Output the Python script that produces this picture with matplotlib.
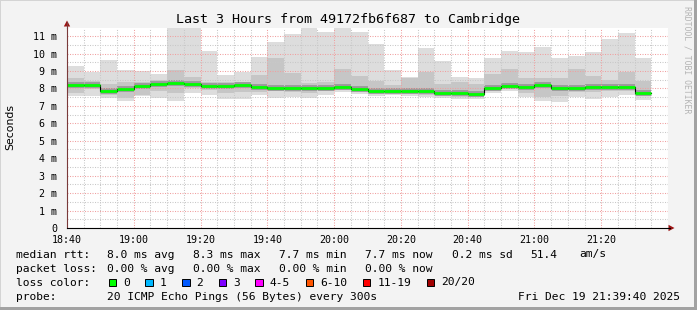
import matplotlib
matplotlib.use("Agg")
import matplotlib.pyplot as plt
from matplotlib.patches import Polygon, Rectangle
import numpy as np

W, H = 697, 310
MONO = "DejaVu Sans Mono"

# 5-minute rounds starting 18:40, minutes since 18:40
starts = [5 * i for i in range(35)]
median = [8.19, 8.19, 7.84, 7.98, 8.13, 8.27, 8.32, 8.25, 8.13, 8.13, 8.17, 8.09,
          8.04, 8.04, 8.04, 8.04, 8.06, 7.94, 7.83, 7.83, 7.83, 7.84, 7.73, 7.73,
          7.69, 8.04, 8.13, 8.07, 8.19, 8.04, 8.04, 8.07, 8.07, 8.07, 7.73]
ping_max = [9.30, 8.95, 9.63, 9.05, 9.00, 8.82, 12.0, 12.0, 10.14, 8.76, 8.95, 9.80,
            10.68, 11.12, 12.0, 11.25, 12.0, 11.25, 10.55, 9.05, 8.67, 10.33, 9.57, 8.67,
            8.57, 9.76, 10.12, 10.08, 10.38, 9.76, 9.86, 10.08, 10.82, 11.18, 9.76]
ping_hi = [8.57, 8.45, 8.23, 8.38, 8.35, 8.48, 9.05, 8.67, 8.35, 8.35, 8.38, 8.76,
           9.76, 8.86, 8.30, 8.35, 9.10, 8.72, 8.44, 8.19, 8.60, 8.95, 8.23, 8.35,
           8.23, 8.82, 9.10, 8.57, 8.57, 8.57, 9.10, 8.72, 8.48, 8.95, 8.42]
ping_lo = [7.75, 7.96, 7.65, 7.45, 7.65, 7.84, 7.71, 8.00, 7.90, 7.71, 7.80, 7.80,
           7.90, 7.80, 7.71, 7.84, 7.88, 7.80, 7.73, 7.71, 7.67, 7.60, 7.56, 7.52,
           7.48, 7.84, 7.96, 7.71, 7.52, 7.56, 7.80, 7.80, 7.84, 7.84, 7.56]
ping_min = [7.57, 7.56, 7.43, 7.30, 7.57, 7.46, 7.29, 7.75, 7.60, 7.38, 7.38, 7.60,
            7.43, 7.52, 7.46, 7.60, 7.80, 7.69, 7.57, 7.60, 7.56, 7.52, 7.46, 7.38,
            7.38, 7.71, 7.84, 7.52, 7.27, 7.20, 7.52, 7.38, 7.52, 7.60, 7.33]

x_ticks = [0, 20, 40, 60, 80, 100, 120, 140, 160]
x_labels = ["18:40", "19:00", "19:20", "19:40", "20:00", "20:20", "20:40", "21:00", "21:20"]
y_ticks = list(range(12))
y_labels = ["0"] + [f"{v} m" for v in range(1, 12)]

loss_labels = ["0", "1", "2", "3", "4-5", "6-10", "11-19", "20/20"]
loss_colors = ["#00ff00", "#00b8ff", "#0059ff", "#7e00ff", "#ff00ff", "#ff5500", "#ff0000", "#a10000"]

rtt_stats = ["8.0 ms avg", "8.3 ms max", "7.7 ms min", "7.7 ms now", "0.2 ms sd", "51.4", "am/s"]
loss_stats = ["0.00 % avg", "0.00 % max", "0.00 % min", "0.00 % now"]

fig = plt.figure(figsize=(W / 100, H / 100), dpi=100, facecolor="#f3f3f3")
ax = fig.add_axes([67 / W, (H - 228) / H, 601 / W, 200.5 / H])
ax.set_facecolor("white")
ax.set_xlim(0, 180)
ax.set_ylim(0, 11.49)

lo_min = np.array(ping_min)
ax.bar(starts, np.array(ping_max) - lo_min, bottom=lo_min, width=5, align="edge",
       color="#dddddd", linewidth=0, zorder=1)
ax.bar(starts, np.array(ping_hi) - np.array(ping_lo), bottom=ping_lo, width=5, align="edge",
       color="#c6c6c6", linewidth=0, zorder=1.1)
ends = [s + 5 for s in starts]
ax.hlines(median, starts, ends, color="#9a9a9a", linewidth=4.2, zorder=1.2)

# grid above the smoke
ax.set_xticks(x_ticks)
ax.set_xticklabels(x_labels, fontfamily=MONO, fontsize=7.2)
ax.set_xticks(np.arange(0, 181, 5), minor=True)
ax.set_yticks(y_ticks)
ax.set_yticklabels(y_labels, fontfamily=MONO, fontsize=7.2)
ax.set_yticks(np.arange(0, 11.5, 0.5), minor=True)
ax.grid(which="minor", color="#c8c8c8", linestyle=(0, (1, 1.4)), linewidth=0.75)
ax.grid(which="major", color="#f0a0a0", linestyle=(0, (1, 1.4)), linewidth=0.75)
ax.set_axisbelow(False)
for gl in ax.get_xgridlines() + ax.get_ygridlines():
    gl.set_zorder(2)
ax.tick_params(which="both", length=0)
ax.tick_params(axis="x", pad=5)
ax.tick_params(axis="y", pad=7)

# median line: black steps with green loss colour on top
ax.step(starts + [175], median + [median[-1]], where="post", color="black", linewidth=0.8, zorder=3)
ax.hlines(median, starts, ends, color=loss_colors[0], linewidth=2.0, zorder=4)

for side in ["top", "right"]:
    ax.spines[side].set_visible(False)
ax.spines["bottom"].set_color("black")
ax.spines["left"].set_color("#7a3a3a")
ax.spines["bottom"].set_zorder(5)
ax.spines["left"].set_zorder(5)

# overlay in pixel coordinates for labels, legend, frame
ov = fig.add_axes([0, 0, 1, 1], zorder=10)
ov.set_xlim(0, W)
ov.set_ylim(H, 0)
ov.axis("off")
ov.patch.set_visible(False)

ov.add_patch(Rectangle((0, 0), W, 1.2, color="#d4d4d4", lw=0))
ov.add_patch(Rectangle((0, 0), 1.2, H, color="#d4d4d4", lw=0))
ov.add_patch(Rectangle((W - 3, 0), 3, H, color="#a2a2a2", lw=0))
ov.add_patch(Rectangle((0, H - 3), W, 3, color="#a2a2a2", lw=0))

ov.plot([67, 67], [22, 28], color="#7a3a3a", lw=0.8)
ov.add_patch(Polygon([[67, 20.5], [63.8, 26.5], [70.2, 26.5]], color="#9c1414", lw=0))
ov.plot([668, 670], [228, 228], color="black", lw=0.8)
ov.add_patch(Polygon([[674.5, 228], [668.5, 224.8], [668.5, 231.2]], color="#9c1414", lw=0))

ov.text(348, 19, "Last 3 Hours from 49172fb6f687 to Cambridge", ha="center", va="center",
        fontfamily=MONO, fontsize=9.6)
ov.text(10, 127, "Seconds", rotation=90, ha="center", va="center",
        fontfamily="DejaVu Sans", fontsize=7.8)
ov.text(687, 60, "RRDTOOL / TOBI OETIKER", rotation=270, ha="center", va="center",
        fontfamily=MONO, fontsize=5.9, color="#b4b4b4")

fs = 8.1
row_y = [254.5, 268.5, 282.5, 296.5]
ov.text(16, row_y[0], "median rtt:", va="center", fontfamily=MONO, fontsize=fs)
for xp, s in zip([107.3, 193.3, 279.3, 365, 451.7, 530, 579.3], rtt_stats):
    ov.text(xp, row_y[0], s, va="center", fontfamily=MONO, fontsize=fs)
ov.text(16, row_y[1], "packet loss:", va="center", fontfamily=MONO, fontsize=fs)
for xp, s in zip([107.3, 193.3, 279.3, 365], loss_stats):
    ov.text(xp, row_y[1], s, va="center", fontfamily=MONO, fontsize=fs)
ov.text(16, row_y[2], "loss color:", va="center", fontfamily=MONO, fontsize=fs)
bx = 108.7
for lab, col in zip(loss_labels, loss_colors):
    ov.add_patch(Rectangle((bx, row_y[2] - 4), 7.5, 7.5, facecolor=col, edgecolor="black", lw=0.7))
    ov.text(bx + 14.6, row_y[2], lab, va="center", fontfamily=MONO, fontsize=fs)
    bx += 14.6 + 6.85 * len(lab) + 15.2
ov.text(16, row_y[3], "probe:", va="center", fontfamily=MONO, fontsize=fs)
ov.text(107.3, row_y[3], "20 ICMP Echo Pings (56 Bytes) every 300s", va="center",
        fontfamily=MONO, fontsize=fs)
ov.text(680, row_y[3], "Fri Dec 19 21:39:40 2025", ha="right", va="center",
        fontfamily=MONO, fontsize=fs)

fig.savefig("out.png", dpi=100, facecolor=fig.get_facecolor())
